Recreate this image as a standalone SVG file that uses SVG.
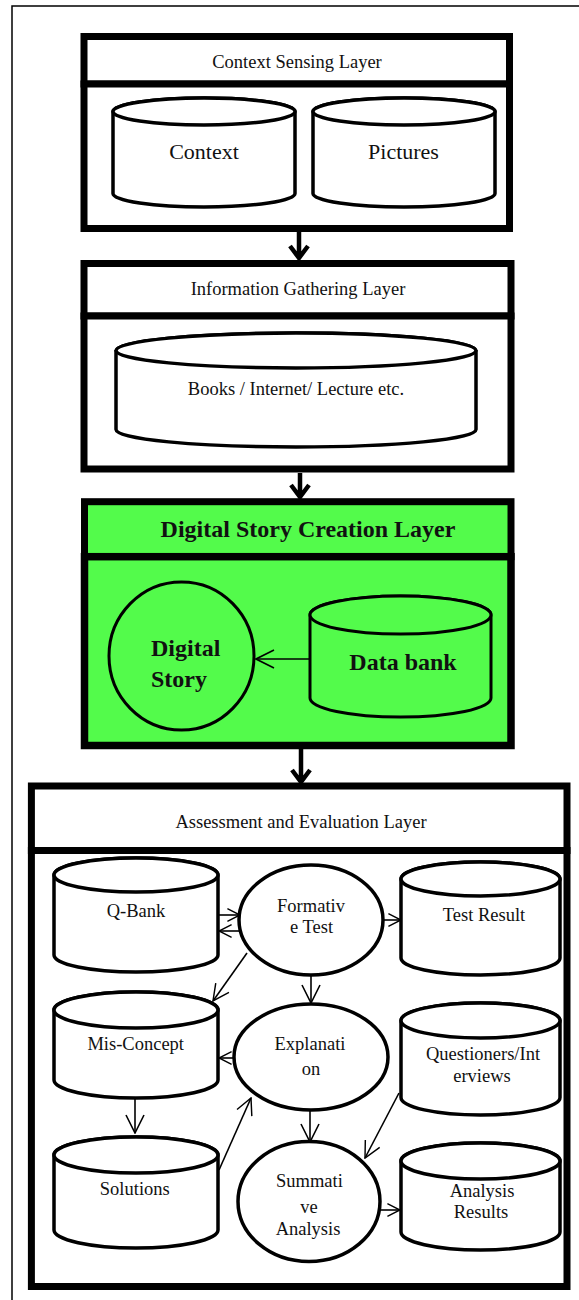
<svg xmlns="http://www.w3.org/2000/svg" width="579" height="1300" viewBox="0 0 579 1300">
<style>
.frame{fill:none;stroke:#000;stroke-width:1.5}
.box{fill:#fff;stroke:#000;stroke-width:7}
.gbox{fill:#53FB4B;stroke:#000;stroke-width:7}
.cyl{fill:#fff;stroke:#000;stroke-width:3.5}
.gcyl{fill:#53FB4B;stroke:#000;stroke-width:3}
.ell{fill:#fff;stroke:#000;stroke-width:3.5}
.gell{fill:#53FB4B;stroke:#000;stroke-width:3}
.big{fill:none;stroke:#000;stroke-width:4.5}
.thin{fill:none;stroke:#000;stroke-width:1.6}
text{font-family:"Liberation Serif","Times New Roman",serif;fill:#111;text-anchor:middle}
.t{font-size:18.5px}
.t22{font-size:22px}
.b{font-size:24px;font-weight:bold}
</style>
<defs>
<marker id="ah" markerUnits="userSpaceOnUse" viewBox="0 0 20 20" refX="19" refY="10" markerWidth="20" markerHeight="20" orient="auto">
<path d="M1,1 L19,10 L1,19" fill="none" stroke="#000" stroke-width="1.6"/>
</marker>
<marker id="am" markerUnits="userSpaceOnUse" viewBox="0 0 20 20" refX="19" refY="10" markerWidth="18" markerHeight="18" orient="auto">
<path d="M1,1 L19,10 L1,19" fill="none" stroke="#000" stroke-width="1.6"/>
</marker>
<marker id="as" markerUnits="userSpaceOnUse" viewBox="0 0 20 20" refX="19" refY="10" markerWidth="14" markerHeight="14" orient="auto">
<path d="M1,1 L19,10 L1,19" fill="none" stroke="#000" stroke-width="2"/>
</marker>
</defs>

<path class="frame" d="M579,6 H12 V1300"/>

<g id="layer-context">
<rect class="box" x="84" y="36.5" width="425.5" height="47.5"/>
<rect class="box" x="84" y="84" width="425.5" height="144.5"/>
<text class="t" x="297" y="68">Context Sensing Layer</text>
</g>
<g id="node-context">
<path class="cyl" d="M113,111.5 V193.5 A91,13.5 0 0 0 295,193.5 V111.5 A91,13.5 0 0 0 113,111.5 Z"/>
<ellipse class="cyl" cx="204" cy="111.5" rx="91" ry="13.5"/>
<text class="t22" x="204" y="159">Context</text>
</g>
<g id="node-pictures">
<path class="cyl" d="M313,111.5 V193.5 A91,13.5 0 0 0 495,193.5 V111.5 A91,13.5 0 0 0 313,111.5 Z"/>
<ellipse class="cyl" cx="404" cy="111.5" rx="91" ry="13.5"/>
<text class="t22" x="403.5" y="159">Pictures</text>
</g>

<g id="layer-info">
<rect class="box" x="84" y="263.5" width="427" height="52.5"/>
<rect class="box" x="84" y="316" width="427" height="153"/>
<text class="t" x="298" y="295">Information Gathering Layer</text>
</g>
<g id="node-books">
<path class="cyl" d="M116,350.5 V429.5 A180,17.5 0 0 0 476,429.5 V350.5 A180,17.5 0 0 0 116,350.5 Z"/>
<ellipse class="cyl" cx="296" cy="350.5" rx="180" ry="17.5"/>
<text class="t" x="296" y="395">Books / Internet/ Lecture etc.</text>
</g>

<g id="layer-story">
<rect class="gbox" x="84.5" y="501.7" width="426.5" height="55"/>
<rect class="gbox" x="84.5" y="556.7" width="426.5" height="188.8" style="stroke-width:7.5"/>
<text class="b" x="308" y="537">Digital Story Creation Layer</text>
</g>
<g id="node-digital-story">
<ellipse class="gell" cx="181.5" cy="656" rx="72.5" ry="74"/>
<text class="b" x="151" y="656" style="text-anchor:start">Digital</text>
<text class="b" x="151" y="687" style="text-anchor:start">Story</text>
</g>
<g id="node-databank">
<path class="gcyl" d="M310,615 V698 A90.5,19 0 0 0 491,698 V615 A90.5,19 0 0 0 310,615 Z"/>
<ellipse class="gcyl" cx="400.5" cy="615" rx="90.5" ry="19"/>
<text class="b" x="403" y="670">Data bank</text>
</g>

<g id="layer-assessment">
<rect class="box" x="31.4" y="786" width="535.6" height="64.5"/>
<rect class="box" x="31.4" y="850.5" width="535.6" height="436"/>
<text class="t" x="301" y="828">Assessment and Evaluation Layer</text>
</g>
<g id="node-qbank">
<path class="cyl" d="M54,875 V955 A82,17 0 0 0 218,955 V875 A82,17 0 0 0 54,875 Z"/>
<ellipse class="cyl" cx="136" cy="875" rx="82" ry="17"/>
<text class="t" x="136" y="917">Q-Bank</text>
</g>
<g id="node-formative">
<ellipse class="ell" cx="311" cy="920" rx="72" ry="55"/>
<text class="t" x="311" y="912">Formativ</text>
<text class="t" x="311.5" y="933">e Test</text>
</g>
<g id="node-testresult">
<path class="cyl" d="M401,879 V958 A79.5,17 0 0 0 560,958 V879 A79.5,17 0 0 0 401,879 Z"/>
<ellipse class="cyl" cx="480.5" cy="879" rx="79.5" ry="17"/>
<text class="t" x="484" y="921">Test Result</text>
</g>
<g id="node-misconcept">
<path class="cyl" d="M54,1010 V1080 A82,18 0 0 0 218,1080 V1010 A82,18 0 0 0 54,1010 Z"/>
<ellipse class="cyl" cx="136" cy="1010" rx="82" ry="18"/>
<text class="t" x="135.7" y="1050">Mis-Concept</text>
</g>
<g id="node-explanation">
<ellipse class="ell" cx="311" cy="1057" rx="77" ry="53"/>
<text class="t" x="310" y="1050">Explanati</text>
<text class="t" x="311" y="1075">on</text>
</g>
<g id="node-questioners">
<path class="cyl" d="M401,1020.5 V1097.5 A79.5,17.5 0 0 0 560,1097.5 V1020.5 A79.5,17.5 0 0 0 401,1020.5 Z"/>
<ellipse class="cyl" cx="480.5" cy="1020.5" rx="79.5" ry="17.5"/>
<text class="t" x="483" y="1060">Questioners/Int</text>
<text class="t" x="482" y="1082">erviews</text>
</g>
<g id="node-solutions">
<path class="cyl" d="M54,1155 V1230 A82,18 0 0 0 218,1230 V1155 A82,18 0 0 0 54,1155 Z"/>
<ellipse class="cyl" cx="136" cy="1155" rx="82" ry="18"/>
<text class="t" x="134.8" y="1195">Solutions</text>
</g>
<g id="node-summative">
<ellipse class="ell" cx="309" cy="1201.5" rx="71" ry="60"/>
<text class="t" x="309.4" y="1187">Summati</text>
<text class="t" x="309" y="1213">ve</text>
<text class="t" x="308" y="1235">Analysis</text>
</g>
<g id="node-analysisresults">
<path class="cyl" d="M401,1161 V1232 A79.5,18 0 0 0 560,1232 V1161 A79.5,18 0 0 0 401,1161 Z"/>
<ellipse class="cyl" cx="480.5" cy="1161" rx="79.5" ry="18"/>
<text class="t" x="482" y="1197">Analysis</text>
<text class="t" x="481" y="1218">Results</text>
</g>

<g id="connectors">
<path class="big" d="M299,232 V258 M290,246 L299,258 L308,246"/>
<path class="big" d="M300,473 V497 M291,485 L300,497 L309,485"/>
<path class="big" d="M301,749 V782 M292,770 L301,782 L310,770"/>
<line class="thin" x1="310" y1="659" x2="256" y2="659" marker-end="url(#ah)"/>
<line class="thin" x1="218" y1="915" x2="240" y2="915" marker-end="url(#as)"/>
<line class="thin" x1="241" y1="931" x2="219" y2="931" marker-end="url(#as)"/>
<line class="thin" x1="383" y1="920" x2="401" y2="920" marker-end="url(#as)"/>
<line class="thin" x1="247" y1="953" x2="213" y2="1001" marker-end="url(#am)"/>
<line class="thin" x1="311" y1="975" x2="311" y2="1003" marker-end="url(#ah)"/>
<line class="thin" x1="235" y1="1058" x2="219" y2="1058" marker-end="url(#as)"/>
<line class="thin" x1="135" y1="1098" x2="135" y2="1133" marker-end="url(#ah)"/>
<line class="thin" x1="219" y1="1170" x2="251" y2="1098" marker-end="url(#am)"/>
<line class="thin" x1="310" y1="1111" x2="310" y2="1142" marker-end="url(#ah)"/>
<line class="thin" x1="399" y1="1093" x2="365" y2="1158" marker-end="url(#am)"/>
<line class="thin" x1="380" y1="1210" x2="400" y2="1210" marker-end="url(#as)"/>
</g>
</svg>
